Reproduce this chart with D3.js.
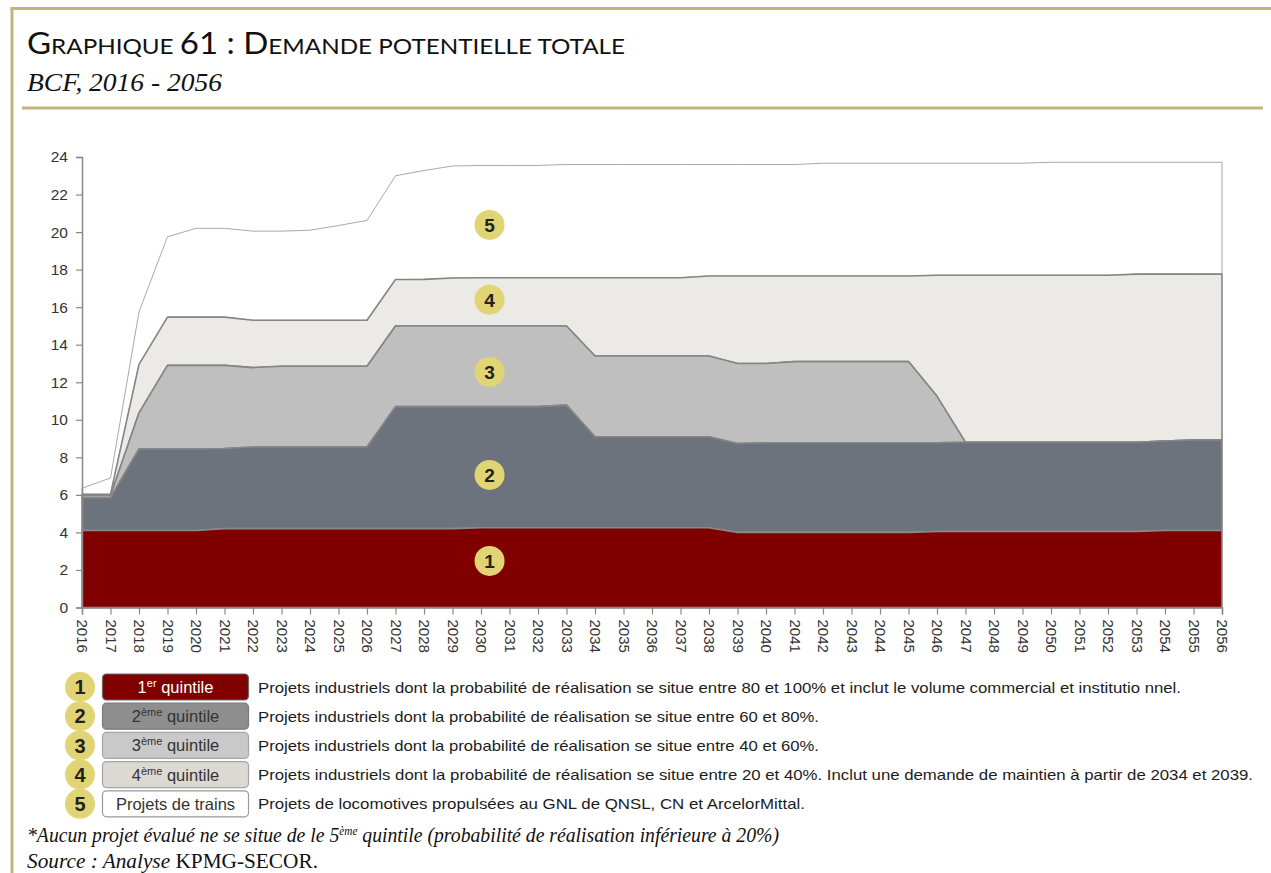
<!DOCTYPE html>
<html>
<head>
<meta charset="utf-8">
<script src="https://cdn.jsdelivr.net/npm/d3@7"></script>
<style>
  body { margin: 0; background: #fff; }
  svg { display: block; }
</style>
</head>
<body>
<svg id="chart" width="1271" height="873"></svg>
<script>
// Years on the horizontal axis
const years = [2016, 2017, 2018, 2019, 2020, 2021, 2022, 2023, 2024, 2025,
  2026, 2027, 2028, 2029, 2030, 2031, 2032, 2033, 2034, 2035,
  2036, 2037, 2038, 2039, 2040, 2041, 2042, 2043, 2044, 2045,
  2046, 2047, 2048, 2049, 2050, 2051, 2052, 2053, 2054, 2055, 2056];

// Potential demand (BCF) by probability quintile
const q1 = [4.1, 4.1, 4.1, 4.1, 4.1, 4.2, 4.2, 4.2, 4.2, 4.2,
  4.2, 4.2, 4.2, 4.2, 4.25, 4.25, 4.25, 4.25, 4.25, 4.25,
  4.25, 4.25, 4.25, 4.0, 4.0, 4.0, 4.0, 4.0, 4.0, 4.0,
  4.05, 4.05, 4.05, 4.05, 4.05, 4.05, 4.05, 4.05, 4.1, 4.1, 4.1];
const q2 = [1.75, 1.75, 4.35, 4.35, 4.35, 4.27, 4.35, 4.35, 4.35, 4.35,
  4.35, 6.5, 6.5, 6.5, 6.45, 6.45, 6.45, 6.53, 4.85, 4.85,
  4.85, 4.85, 4.85, 4.74, 4.78, 4.78, 4.78, 4.78, 4.78, 4.78,
  4.73, 4.75, 4.75, 4.75, 4.75, 4.75, 4.75, 4.75, 4.77, 4.82, 4.82];
const q3 = [0.1, 0.1, 1.92, 4.45, 4.45, 4.43, 4.23, 4.3, 4.3, 4.3,
  4.3, 4.3, 4.3, 4.3, 4.3, 4.3, 4.3, 4.22, 4.3, 4.3,
  4.3, 4.3, 4.3, 4.26, 4.22, 4.32, 4.32, 4.32, 4.32, 4.32,
  2.47, 0, 0, 0, 0, 0, 0, 0, 0, 0, 0];
const q4 = [0.08, 0.08, 2.58, 2.57, 2.57, 2.57, 2.52, 2.45, 2.45, 2.45,
  2.45, 2.47, 2.48, 2.55, 2.57, 2.57, 2.57, 2.57, 4.17, 4.17,
  4.17, 4.17, 4.26, 4.66, 4.66, 4.56, 4.56, 4.56, 4.56, 4.56,
  6.45, 8.9, 8.9, 8.9, 8.9, 8.9, 8.9, 8.96, 8.89, 8.84, 8.84];
const trains = [0.32, 0.87, 2.8, 4.28, 4.73, 4.73, 4.75, 4.75, 4.8, 5.05,
  5.32, 5.53, 5.8, 5.97, 5.98, 5.98, 5.98, 6.03, 6.03, 6.03,
  6.03, 6.03, 5.94, 5.94, 5.94, 5.94, 6.01, 6.01, 6.01, 6.01,
  5.97, 5.97, 5.97, 5.97, 6.02, 6.02, 6.02, 5.96, 5.96, 5.96, 5.96];

const yTicks = [0, 2, 4, 6, 8, 10, 12, 14, 16, 18, 20, 22, 24];

const seriesKeys = ["q1", "q2", "q3", "q4", "trains"];
const areaFill = { q1: "#800000", q2: "#6c737c", q3: "#bfbfbf", q4: "#ebeae6", trains: "#ffffff" };
const areaStroke = { q1: "#8a8a8a", q2: "#858585", q3: "#858585", q4: "#858585", trains: "#a9a9a9" };

// Numbered badges placed inside each band (year, value)
const badgeNumbers = [1, 2, 3, 4, 5];
const badgeYear = [2030.3, 2030.3, 2030.3, 2030.3, 2030.3];
const badgeValue = [2.48, 7.06, 12.55, 16.4, 20.38];

// Legend
const legendSwatchFill = ["#800000", "#8e8e8e", "#c9c9c9", "#dcd9d3", "#ffffff"];
const legendSwatchStroke = ["#6a6a6a", "#7a7a7a", "#a5a5a5", "#a5a5a5", "#9a9a9a"];
const legendSwatchText = [["1", "er", " quintile"], ["2", "ème", " quintile"], ["3", "ème", " quintile"], ["4", "ème", " quintile"], ["Projets de trains", "", ""]];
const legendDescriptions = [
  "Projets industriels dont la probabilité de réalisation se situe entre 80 et 100% et inclut le volume commercial et institutio nnel.",
  "Projets industriels dont la probabilité de réalisation se situe entre 60 et 80%.",
  "Projets industriels dont la probabilité de réalisation se situe entre 40 et 60%.",
  "Projets industriels dont la probabilité de réalisation se situe entre 20 et 40%. Inclut une demande de maintien à partir de 2034 et 2039.",
  "Projets de locomotives propulsées au GNL de QNSL, CN et ArcelorMittal."
];
const legendDescWidth = [923, 561, 561, 995, 547];

const svg = d3.select("#chart");
const gold = "#c3b47d";

// Frame
svg.append("line").attr("x1", 12).attr("y1", 7).attr("x2", 12).attr("y2", 873)
  .attr("stroke", gold).attr("stroke-width", 3);
svg.append("line").attr("x1", 10.5).attr("y1", 8.5).attr("x2", 1271).attr("y2", 8.5)
  .attr("stroke", gold).attr("stroke-width", 3);
svg.append("line").attr("x1", 22).attr("y1", 108).attr("x2", 1263).attr("y2", 108)
  .attr("stroke", gold).attr("stroke-width", 3);

// Title in small capitals
const title = svg.append("text").attr("x", 27).attr("y", 54)
  .attr("font-family", "Lato, 'Noto Sans', sans-serif").attr("fill", "#111")
  .attr("textLength", 598).attr("lengthAdjust", "spacingAndGlyphs");
const titleParts = [["G", 30], ["RAPHIQUE ", 22], ["61 : D", 30], ["EMANDE POTENTIELLE TOTALE", 22]];
titleParts.forEach(([t, s]) => title.append("tspan").attr("font-size", s).text(t));

svg.append("text").attr("x", 27).attr("y", 91)
  .attr("font-family", "'Liberation Serif', serif").attr("font-style", "italic")
  .attr("font-size", 25).attr("fill", "#111")
  .attr("textLength", 195).attr("lengthAdjust", "spacingAndGlyphs")
  .text("BCF, 2016 - 2056");

// Scales
const x = d3.scaleLinear().domain([2016, 2056]).range([82, 1222]);
const y = d3.scaleLinear().domain([0, 24]).range([607.5, 157]);

const table = years.map((yr, i) => ({ year: yr, q1: q1[i], q2: q2[i], q3: q3[i], q4: q4[i], trains: trains[i] }));
const stacked = d3.stack().keys(seriesKeys)(table);

const area = d3.area()
  .x(d => x(d.data.year))
  .y0(d => y(d[0]))
  .y1(d => y(d[1]));

// Top layer first so that the lower bands' outlines sit on top
svg.append("g").selectAll("path")
  .data(stacked.slice().reverse())
  .join("path")
  .attr("d", area)
  .attr("fill", d => areaFill[d.key])
  .attr("stroke", d => areaStroke[d.key])
  .attr("stroke-width", d => d.key === "trains" ? 1 : 1.6)
  .attr("stroke-linejoin", "round");

// Axes
const axisColor = "#888";
const yAxis = svg.append("g").attr("transform", "translate(82,0)")
  .call(d3.axisLeft(y).tickValues(yTicks).tickSize(6).tickPadding(8).tickFormat(d3.format("d")));
const xAxis = svg.append("g").attr("transform", "translate(0,607.5)")
  .call(d3.axisBottom(x).tickValues(years).tickSize(7).tickFormat(d3.format("d")));

[yAxis, xAxis].forEach(g => {
  g.select(".domain").attr("stroke", axisColor).attr("stroke-width", 1.5);
  g.selectAll(".tick line").attr("stroke", axisColor).attr("stroke-width", 1.2);
  g.selectAll("text").attr("fill", "#333").attr("font-family", "'Liberation Sans', Arial, sans-serif");
});
yAxis.selectAll("text").attr("font-size", 15.5);
xAxis.selectAll("text")
  .attr("font-size", 15)
  .attr("text-anchor", "start")
  .attr("transform", "rotate(90)")
  .attr("x", 12)
  .attr("y", 0)
  .attr("dy", "0.35em");

// Badges inside bands
const badgeColor = "#e1d474";
const badges = svg.append("g").selectAll("g")
  .data(badgeNumbers)
  .join("g")
  .attr("transform", (d, i) => `translate(${x(badgeYear[i])},${y(badgeValue[i])})`);
badges.append("circle").attr("r", 15).attr("fill", badgeColor);
badges.append("text").attr("text-anchor", "middle").attr("dy", "0.36em")
  .attr("font-family", "'Liberation Sans', Arial, sans-serif").attr("font-weight", "bold")
  .attr("font-size", 19).attr("fill", "#222").text(d => d);

// Legend rows
const legend = svg.append("g");
const rowY = i => 687 + i * 29.2;
legendDescriptions.forEach((desc, i) => {
  const cy = rowY(i);
  const row = legend.append("g");
  row.append("rect").attr("x", 102.5).attr("y", cy - 13).attr("width", 146).attr("height", 26)
    .attr("rx", 4).attr("fill", legendSwatchFill[i]).attr("stroke", legendSwatchStroke[i]).attr("stroke-width", 1.2);
  const [main, sup, rest] = legendSwatchText[i];
  const t = row.append("text").attr("x", 175.5).attr("y", cy + 6).attr("text-anchor", "middle")
    .attr("font-family", "'Liberation Sans', Arial, sans-serif").attr("font-size", 16.5)
    .attr("fill", i === 0 ? "#ffffff" : "#333");
  t.append("tspan").text(main);
  if (sup) {
    t.append("tspan").attr("font-size", 11).attr("dy", -6).text(sup);
    t.append("tspan").attr("dy", 6).text(rest);
  }
  row.append("text").attr("x", 258).attr("y", cy + 5.5)
    .attr("font-family", "'Liberation Sans', Arial, sans-serif").attr("font-size", 14.5)
    .attr("fill", "#1c1c1c")
    .attr("textLength", legendDescWidth[i]).attr("lengthAdjust", "spacingAndGlyphs")
    .text(desc);
});
// Legend badges drawn last: they overlap slightly
legendDescriptions.forEach((desc, i) => {
  const cy = rowY(i);
  legend.append("circle").attr("cx", 80).attr("cy", cy).attr("r", 15).attr("fill", badgeColor);
  legend.append("text").attr("x", 80).attr("y", cy).attr("dy", "0.36em").attr("text-anchor", "middle")
    .attr("font-family", "'Liberation Sans', Arial, sans-serif").attr("font-weight", "bold")
    .attr("font-size", 20).attr("fill", "#222").text(badgeNumbers[i]);
});

// Notes
const note = svg.append("text").attr("x", 27).attr("y", 842)
  .attr("font-family", "'Liberation Serif', serif").attr("font-style", "italic")
  .attr("font-size", 21).attr("fill", "#111")
  .attr("textLength", 752).attr("lengthAdjust", "spacingAndGlyphs");
note.append("tspan").text("*Aucun projet évalué ne se situe de le 5");
note.append("tspan").attr("font-size", 12).attr("dy", -7).text("ème");
note.append("tspan").attr("dy", 7).text(" quintile (probabilité de réalisation inférieure à 20%)");

const source = svg.append("text").attr("x", 27).attr("y", 868)
  .attr("font-family", "'Liberation Serif', serif").attr("font-size", 21).attr("fill", "#111")
  .attr("textLength", 291).attr("lengthAdjust", "spacingAndGlyphs");
source.append("tspan").attr("font-style", "italic").text("Source : Analyse ");
source.append("tspan").text("KPMG-SECOR.");
</script>
</body>
</html>
